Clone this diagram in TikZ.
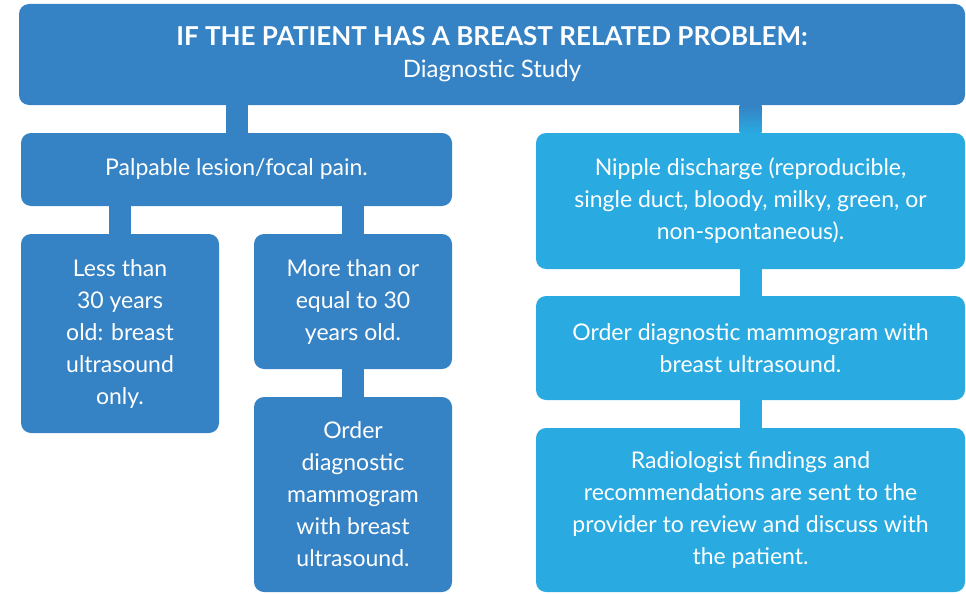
\documentclass[tikz,border=0pt]{standalone}
\usepackage{fontspec}
\setmainfont{Lato}
\definecolor{dkblue}{HTML}{3582C4}
\definecolor{ltblue}{HTML}{29AAE1}
\begin{document}
\begin{tikzpicture}[x=1pt,y=-1pt,
      box/.style={fill=#1,rounded corners=10pt,inner sep=0pt,text=white,
        align=center,font=\fontsize{23}{32}\selectfont},
      link/.style={draw=#1,line width=22pt}]
      \useasboundingbox (0,0) rectangle (966,594);
      \path (492,54.5) node[box=dkblue,minimum width=946pt,minimum height=101pt] (top)
        {{\bfseries\fontsize{26}{34}\selectfont IF THE PATIENT HAS A BREAST RELATED PROBLEM:}\\
         {\fontsize{24}{34}\selectfont Diagnostic Study}};
      \path (236.5,169.5) node[box=dkblue,minimum width=431pt,minimum height=73pt] (lesion)
        {Palpable lesion/focal pain.};
      \path (120,333.5) node[box=dkblue,minimum width=198pt,minimum height=199pt] (young)
        {Less than\\30 years\\old: breast\\ultrasound\\only.};
      \path (353,301.5) node[box=dkblue,minimum width=198pt,minimum height=135pt] (old)
        {More than or\\equal to 30\\years old.};
      \path (353,494.5) node[box=dkblue,minimum width=198pt,minimum height=195pt] (oldmammo)
        {Order\\diagnostic\\mammogram\\with breast\\ultrasound.};
      \path (750.5,201) node[box=ltblue,minimum width=429pt,minimum height=136pt] (nipple)
        {Nipple discharge (reproducible,\\single duct, bloody, milky, green, or\\non-spontaneous).};
      \path (750.5,348) node[box=ltblue,minimum width=429pt,minimum height=104pt] (mammo)
        {Order diagnostic mammogram with\\breast ultrasound.};
      \path (750.5,510) node[box=ltblue,minimum width=429pt,minimum height=164pt] (findings)
        {Radiologist findings and\\recommendations are sent to the\\provider to review and discuss with\\the patient.};
      \draw[link=dkblue] (top.south -| lesion.north) -- (lesion.north);
      \draw[link=dkblue] (lesion.south -| young.north) -- (young.north);
      \draw[link=dkblue] (lesion.south -| old.north) -- (old.north);
      \draw[link=dkblue] (old.south) -- (oldmammo.north);
      \shade[top color=dkblue,bottom color=ltblue]
        ([xshift=-11pt]top.south -| nipple.north) rectangle ([xshift=11pt]nipple.north);
      \draw[link=ltblue] (nipple.south) -- (mammo.north);
      \draw[link=ltblue] (mammo.south) -- (findings.north);
     \end{tikzpicture}
\end{document}
